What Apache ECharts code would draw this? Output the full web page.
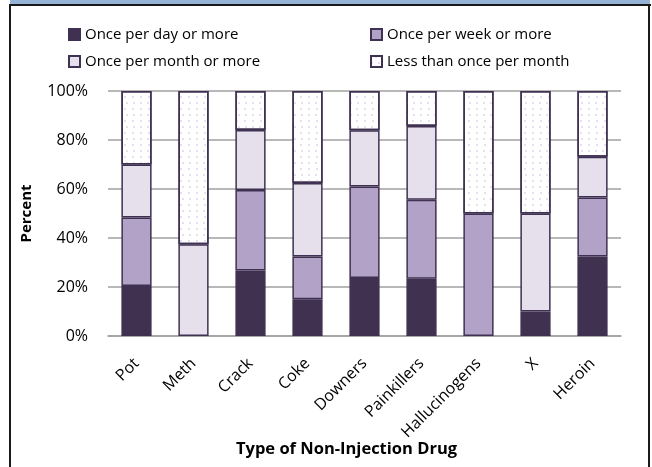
<!DOCTYPE html>
<html>
<head>
<meta charset="utf-8">
<script src="https://cdn.jsdelivr.net/npm/echarts@6/dist/echarts.min.js"></script>
<style>
html,body{margin:0;padding:0;background:#fff;}
#chart{width:652px;height:467px;}
</style>
</head>
<body>
<div id="chart"></div>
<script>
const categories = ['Pot', 'Meth', 'Crack', 'Coke', 'Downers', 'Painkillers', 'Hallucinogens', 'X', 'Heroin'];
const seriesNames = ['Once per day or more', 'Once per week or more', 'Once per month or more', 'Less than once per month'];
const dayValues   = [20.4, 0,    26.7, 15.0, 23.7, 23.4, 0,  10.0, 32.4];
const weekValues  = [28.0, 0,    32.9, 17.5, 37.3, 32.2, 50, 0,    24.1];
const monthValues = [21.6, 37.5, 24.5, 30.0, 23.0, 30.1, 0,  40.0, 16.7];
const lessValues  = [30.0, 62.5, 15.9, 37.5, 16.0, 14.3, 50, 50.0, 26.8];
const yTicks = [0, 20, 40, 60, 80, 100];

const FONT = 'Open Sans';
const BORDER = '#3F3151';
const fills = ['#403151', '#B2A2C7', '#E5E0EC', '#FFFFFF'];
const allValues = [dayValues, weekValues, monthValues, lessValues];

const chart = echarts.init(document.getElementById('chart'), null, {renderer: 'canvas'});

const series = allValues.map((vals, i) => ({
  name: seriesNames[i],
  type: 'bar',
  stack: 'total',
  barWidth: '53%',
  data: vals.map(v => v === 0 ? null : v),
  itemStyle: Object.assign({
    color: fills[i],
    borderColor: BORDER,
    borderWidth: 1.5
  }, i === 3 ? {
    decal: {
      symbol: 'circle',
      symbolSize: 1,
      color: '#DDD6E8',
      dashArrayX: [[2, 5], [0, 3.5, 2, 1.5]],
      dashArrayY: [2, 4]
    }
  } : {}),
  emphasis: {disabled: true}
}));

const legendCommon = {
  orient: 'vertical',
  itemWidth: 11,
  itemHeight: 11,
  itemGap: 12,
  icon: 'rect',
  textStyle: {fontFamily: FONT, fontSize: 15, color: '#000'},
  selectedMode: false
};

chart.setOption({
  animation: false,
  backgroundColor: '#fff',
  legend: [
    Object.assign({left: 63, top: 22, data: [seriesNames[0], seriesNames[2]]}, legendCommon),
    Object.assign({left: 365, top: 22, data: [seriesNames[1], seriesNames[3]]}, legendCommon)
  ],
  grid: {left: 108, right: 31, top: 91, bottom: 131, outerBoundsMode: 'none', containLabel: false},
  xAxis: {
    type: 'category',
    data: categories,
    axisLine: {lineStyle: {color: '#A0A0A0', width: 1.5}},
    axisTick: {show: false},
    axisLabel: {rotate: 45, margin: 25, fontFamily: FONT, fontSize: 16, color: '#000', interval: 0},
    name: 'Type of Non-Injection Drug',
    nameLocation: 'middle',
    nameGap: 105,
    nameMoveOverlap: false,
    nameTextStyle: {fontFamily: FONT, fontSize: 16.5, fontWeight: 'bold', color: '#000', padding: [0, 36, 0, 0]}
  },
  yAxis: {
    type: 'value',
    min: yTicks[0],
    max: yTicks[yTicks.length - 1],
    interval: yTicks[1] - yTicks[0],
    axisLine: {show: false},
    axisTick: {show: false},
    splitLine: {lineStyle: {color: '#A0A0A0', width: 1.5}},
    axisLabel: {formatter: v => v + '%', margin: 20, fontFamily: FONT, fontSize: 16, color: '#000'},
    name: 'Percent',
    nameLocation: 'middle',
    nameGap: 74,
    nameMoveOverlap: false,
    nameTextStyle: {fontFamily: FONT, fontSize: 15, fontWeight: 'bold', color: '#000'}
  },
  graphic: [
    {type: 'rect', shape: {x: 10, y: 0, width: 640, height: 4}, style: {fill: '#95B3D7'}, silent: true},
    {type: 'line', shape: {x1: 9, y1: 5, x2: 651, y2: 5}, style: {stroke: '#1a1a1a', lineWidth: 2}, silent: true},
    {type: 'line', shape: {x1: 10, y1: 4, x2: 10, y2: 467}, style: {stroke: '#1a1a1a', lineWidth: 2}, silent: true},
    {type: 'line', shape: {x1: 649, y1: 4, x2: 649, y2: 467}, style: {stroke: '#1a1a1a', lineWidth: 2}, silent: true}
  ],
  series: series
});
</script>
</body>
</html>
